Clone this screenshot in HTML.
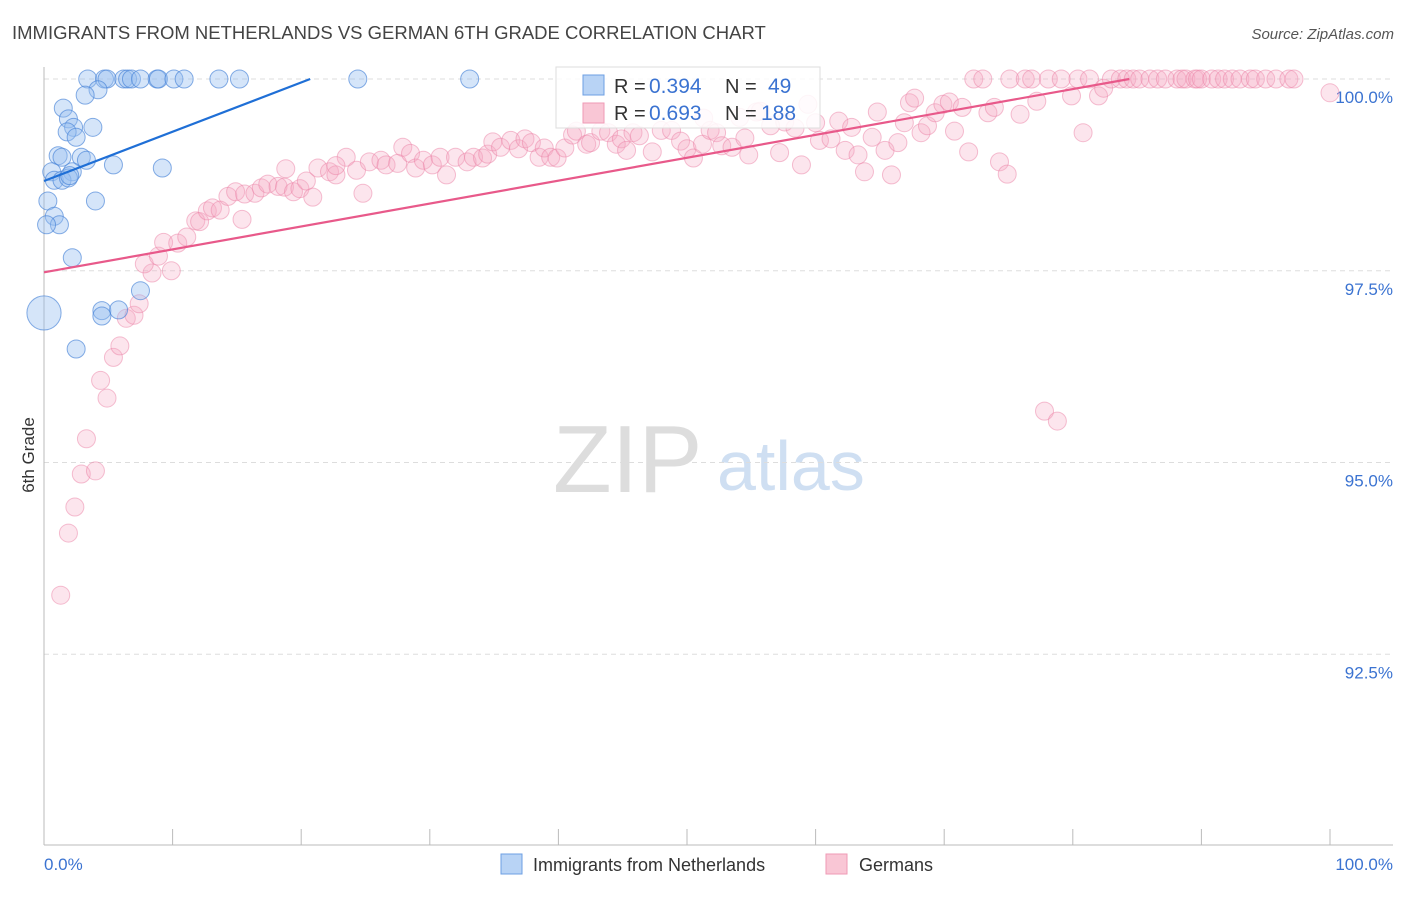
<!DOCTYPE html>
<html><head><meta charset="utf-8"><style>
body{margin:0;background:#fff;font-family:"Liberation Sans",sans-serif;}
svg text{font-family:"Liberation Sans",sans-serif;}
</style></head><body>
<svg id="chart" width="1406" height="892" xmlns="http://www.w3.org/2000/svg">
<text x="12" y="39" font-size="18.5" fill="#444">IMMIGRANTS FROM NETHERLANDS VS GERMAN 6TH GRADE CORRELATION CHART</text>
<text x="1394" y="39" font-size="15" fill="#555" font-style="italic" text-anchor="end">Source: ZipAtlas.com</text>
<g>
<text x="553" y="492" font-size="96" font-family="Liberation Serif,serif" fill="#ddd">ZIP</text>
<text x="717" y="490" font-size="70" fill="#cfdff2">atlas</text>
</g>
<g id="grid"></g>
<g id="axes"></g>
<g id="points"></g>
<g id="lines"></g>
<text transform="translate(34,455) rotate(-90)" font-size="17" fill="#333" text-anchor="middle">6th Grade</text>
<g>
<rect x="556" y="67" width="264" height="61" fill="rgba(255,255,255,0.85)" stroke="#ddd"/>
<rect x="583" y="75" width="21" height="20" fill="#b8d3f5" stroke="#6d9fe3"/>
<rect x="583" y="103" width="21" height="20" fill="#f9c6d5" stroke="#ef9ab5"/>
<text x="614" y="93" font-size="20" fill="#333">R =</text>
<text x="649" y="93" font-size="21" fill="#3b73d1">0.394</text>
<text x="725" y="93" font-size="20" fill="#333">N =</text>
<text x="768" y="93" font-size="21" fill="#3b73d1">49</text>
<text x="614" y="120" font-size="20" fill="#333">R =</text>
<text x="649" y="120" font-size="21" fill="#3b73d1">0.693</text>
<text x="725" y="120" font-size="20" fill="#333">N =</text>
<text x="761" y="120" font-size="21" fill="#3b73d1">188</text>
</g>
<g>
<rect x="501" y="854" width="21" height="20" fill="#b8d3f5" stroke="#6d9fe3"/>
<text x="533" y="871" font-size="18" fill="#333">Immigrants from Netherlands</text>
<rect x="826" y="854" width="21" height="20" fill="#f9c6d5" stroke="#ef9ab5"/>
<text x="859" y="871" font-size="18" fill="#333">Germans</text>
</g>
</svg>
<script>
const yTicks=[100,97.5,95,92.5];
const yTickLabels=["100.0%","97.5%","95.0%","92.5%"];
const xTickLabels=["0.0%","100.0%"];
const blueX=[3.4,4.7,4.9,6.2,6.5,6.8,7.5,8.8,8.9,10.1,10.9,13.6,15.2,24.4,33.1,4.2,3.2,1.5,1.9,3.8,2.3,1.8,2.5,2.9,1.1,1.4,3.3,2.2,0.6,0.8,1.4,1.9,2.0,5.4,9.2,0.3,4.0,0.8,1.2,0.2,2.2,7.5,0,4.5,5.8,4.5,2.5];
const blueY=[100,100,100,100,100,100,100,100,100,100,100,100,100,100,100,99.86,99.79,99.62,99.48,99.37,99.37,99.31,99.24,98.98,99.0,98.98,98.94,98.79,98.79,98.68,98.68,98.71,98.74,98.88,98.84,98.41,98.41,98.21,98.1,98.1,97.67,97.24,96.95,96.98,96.99,96.91,96.48];
const blueSize=[1,1,1,1,1,1,1,1,1,1,1,1,1,1,1,1,1,1,1,1,1,1,1,1,1,1,1,1,1,1,1,1,1,1,1,1,1,1,1,1,1,1,1.9,1,1,1,1];
const pinkX=[1.3,1.9,2.4,2.9,4.0,3.3,4.9,4.4,5.4,5.9,6.4,7.0,7.4,8.4,7.8,9.9,8.9,9.3,10.4,11.1,11.8,12.1,12.7,13.1,13.7,15.4,14.3,14.9,15.6,16.4,16.9,17.4,18.2,18.7,19.4,19.9,20.9,20.4,18.8,21.3,22.2,22.7,23.5,22.7,24.3,24.8,25.3,26.2,26.6,27.5,27.9,28.5,28.9,29.5,30.2,30.8,31.3,32.0,32.9,33.4,34.1,34.5,34.9,35.5,36.3,36.9,37.4,37.9,38.5,38.9,39.4,39.9,40.5,41.1,41.4,42.2,42.5,43.3,43.9,44.5,44.9,45.3,45.8,46.3,47.3,48.0,48.8,49.5,50.0,50.5,51.2,51.8,52.3,52.7,53.5,54.5,54.8,55.4,56.5,57.2,57.6,58.4,58.9,60.0,60.3,61.2,61.8,62.3,62.8,63.3,63.8,64.4,64.8,65.4,65.9,66.4,66.9,67.3,67.7,68.2,68.7,69.3,69.9,70.4,70.8,71.4,71.9,72.3,73.0,73.4,73.9,74.3,74.9,75.1,75.9,76.3,76.8,77.2,77.8,78.1,78.8,79.1,79.9,80.4,80.8,81.3,82.0,82.4,83.0,83.7,84.2,84.7,85.2,86.0,86.6,87.2,88.1,88.5,88.8,89.5,89.7,90.0,90.8,91.3,91.8,92.4,93.0,93.8,94.2,95.0,95.8,96.8,97.2,100,54.1,51.3,55.7,59.4];
const pinkY=[93.27,94.08,94.42,94.85,94.89,95.31,95.84,96.07,96.37,96.52,96.88,96.92,97.07,97.47,97.59,97.50,97.69,97.87,97.86,97.94,98.15,98.14,98.28,98.32,98.29,98.17,98.47,98.53,98.50,98.51,98.58,98.63,98.60,98.59,98.53,98.57,98.46,98.67,98.83,98.84,98.79,98.75,98.98,98.87,98.81,98.51,98.92,98.94,98.88,98.90,99.11,99.03,98.84,98.94,98.88,98.98,98.75,98.98,98.92,98.98,98.97,99.02,99.18,99.11,99.20,99.09,99.22,99.17,98.98,99.10,98.98,98.97,99.10,99.27,99.32,99.15,99.17,99.32,99.30,99.15,99.22,99.07,99.30,99.26,99.05,99.33,99.33,99.19,99.09,98.97,99.15,99.33,99.30,99.13,99.11,99.23,99.01,99.57,99.39,99.04,99.44,99.36,98.88,99.43,99.20,99.22,99.45,99.07,99.37,99.01,98.79,99.24,99.57,99.07,98.75,99.17,99.43,99.69,99.75,99.30,99.39,99.56,99.67,99.70,99.32,99.63,99.05,100,100,99.56,99.63,98.92,98.76,100,99.54,100,100,99.71,95.67,100,95.54,100,99.78,100,99.30,100,99.78,99.88,100,100,100,100,100,100,100,100,100,100,100,100,100,100,100,100,100,100,100,100,100,100,100,100,100,99.82,99.50,99.49,99.58,99.67];
const blueTrend=[[0,98.67],[20.7,100]];
const pinkTrend=[[0,97.48],[84.4,100]];

const NS="http://www.w3.org/2000/svg";
const X0=44,X1=1330,Y100=79,PXPER=76.7;
const sx=v=>X0+(X1-X0)*v/100;
const sy=v=>Y100+(100-v)*PXPER;
function mk(tag,attrs,parent){const e=document.createElementNS(NS,tag);for(const k in attrs)e.setAttribute(k,attrs[k]);document.getElementById(parent).appendChild(e);return e;}

yTicks.forEach((t,i)=>{
  const g=mk('line',{x1:44,x2:1393,y1:sy(t),y2:sy(t),stroke:'#ddd','stroke-dasharray':'5,4'},'grid');
  
  
  const l=mk('text',{x:1393,y:sy(t)+24,'font-size':17,fill:'#3b73d1','text-anchor':'end'},'grid');
  l.textContent=yTickLabels[i];
  
  
});
const ax=mk('line',{x1:44,x2:1393,y1:845,y2:845,stroke:'#bbb'},'axes');


const ay=mk('line',{x1:44,x2:44,y1:67,y2:845,stroke:'#bbb'},'axes');


for(let i=0;i<=10;i++){
  const t=mk('line',{x1:sx(i*10),x2:sx(i*10),y1:829,y2:845,stroke:'#bbb'},'axes');
  
  
}
[[0,'start',44],[100,'end',1393]].forEach((d,i)=>{
  const t=mk('text',{x:d[2],y:870,'font-size':17,fill:'#3b73d1','text-anchor':d[1]},'axes');
  t.textContent=xTickLabels[i];
  
  
});

pinkX.forEach((x,i)=>{
  const c=mk('circle',{cx:sx(x),cy:sy(pinkY[i]),r:9,fill:'rgba(246,170,196,0.3)',stroke:'rgba(236,130,165,0.5)','stroke-width':1},'points');
  
  
});
blueX.forEach((x,i)=>{
  const c=mk('circle',{cx:sx(x),cy:sy(blueY[i]),r:9*blueSize[i],fill:'rgba(150,190,240,0.4)',stroke:'rgba(70,130,215,0.65)','stroke-width':1},'points');
  
  
});
const bl=mk('line',{x1:sx(blueTrend[0][0]),y1:sy(blueTrend[0][1]),x2:sx(blueTrend[1][0]),y2:sy(blueTrend[1][1]),stroke:'#1f6fd6','stroke-width':2.2},'lines');


const pl=mk('line',{x1:sx(pinkTrend[0][0]),y1:sy(pinkTrend[0][1]),x2:sx(pinkTrend[1][0]),y2:sy(pinkTrend[1][1]),stroke:'#e8598a','stroke-width':2.2},'lines');


</script>
</body></html>
